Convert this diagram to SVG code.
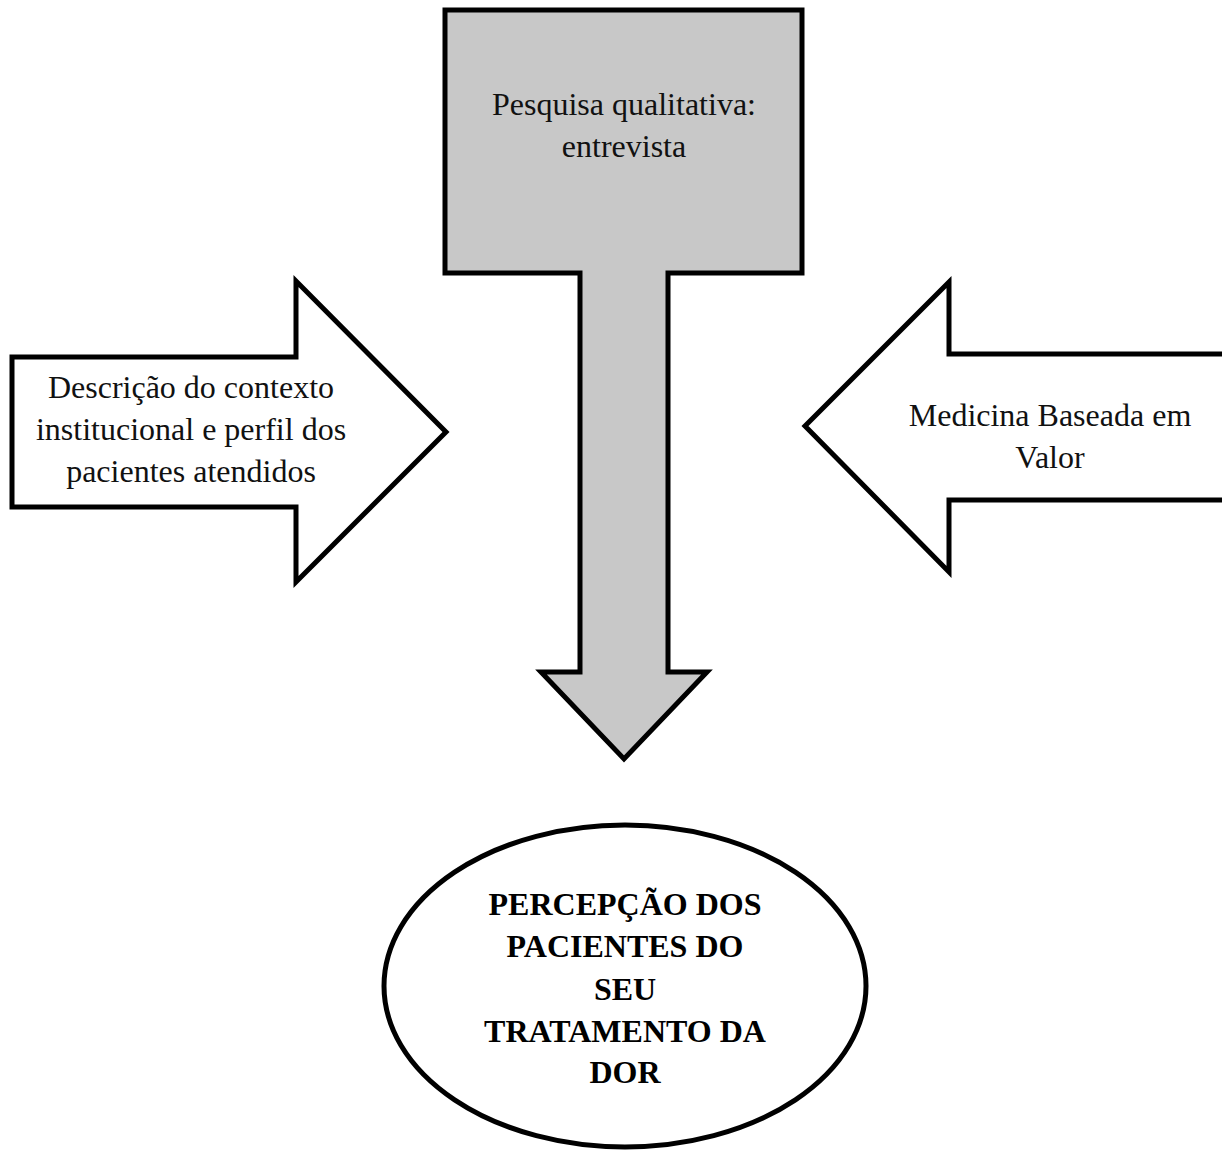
<svg xmlns="http://www.w3.org/2000/svg" width="1222" height="1151" viewBox="0 0 1222 1151">
<style>
.shape{stroke:#000;stroke-width:5;stroke-linejoin:miter;stroke-miterlimit:10}
.t{font-family:"Liberation Serif","Times New Roman",serif;font-size:32px;fill:#111;text-anchor:middle}
.b{font-weight:bold;fill:#000}
</style>
<rect width="1222" height="1151" fill="#fff"/>
<g id="pesquisa">
<path class="shape" fill="#c8c8c8" d="M445,10 H802 V273 H668 V672 H707 L624,759 L541,672 H580 V273 H445 Z"/>
<text class="t" x="624" y="115">Pesquisa qualitativa:</text>
<text class="t" x="624" y="157">entrevista</text>
</g>
<g id="descricao">
<path class="shape" fill="#fff" d="M12,357 H296 V281 L446,432 L296,582 V507 H12 Z"/>
<text class="t" x="191" y="398">Descrição do contexto</text>
<text class="t" x="191" y="440">institucional e perfil dos</text>
<text class="t" x="191" y="482">pacientes atendidos</text>
</g>
<g id="medicina">
<path class="shape" fill="#fff" d="M1226,354 H949 V282 L805,426 L949,572 V500 H1226"/>
<text class="t" x="1050" y="426">Medicina Baseada em</text>
<text class="t" x="1050" y="468">Valor</text>
</g>
<g id="percepcao">
<ellipse class="shape" fill="#fff" cx="625" cy="986" rx="241" ry="161"/>
<text class="t b" x="625" y="915">PERCEPÇÃO DOS</text>
<text class="t b" x="625" y="957">PACIENTES DO</text>
<text class="t b" x="625" y="1000">SEU</text>
<text class="t b" x="625" y="1042">TRATAMENTO DA</text>
<text class="t b" x="625" y="1083">DOR</text>
</g>
<g id="connectors"></g>
</svg>
